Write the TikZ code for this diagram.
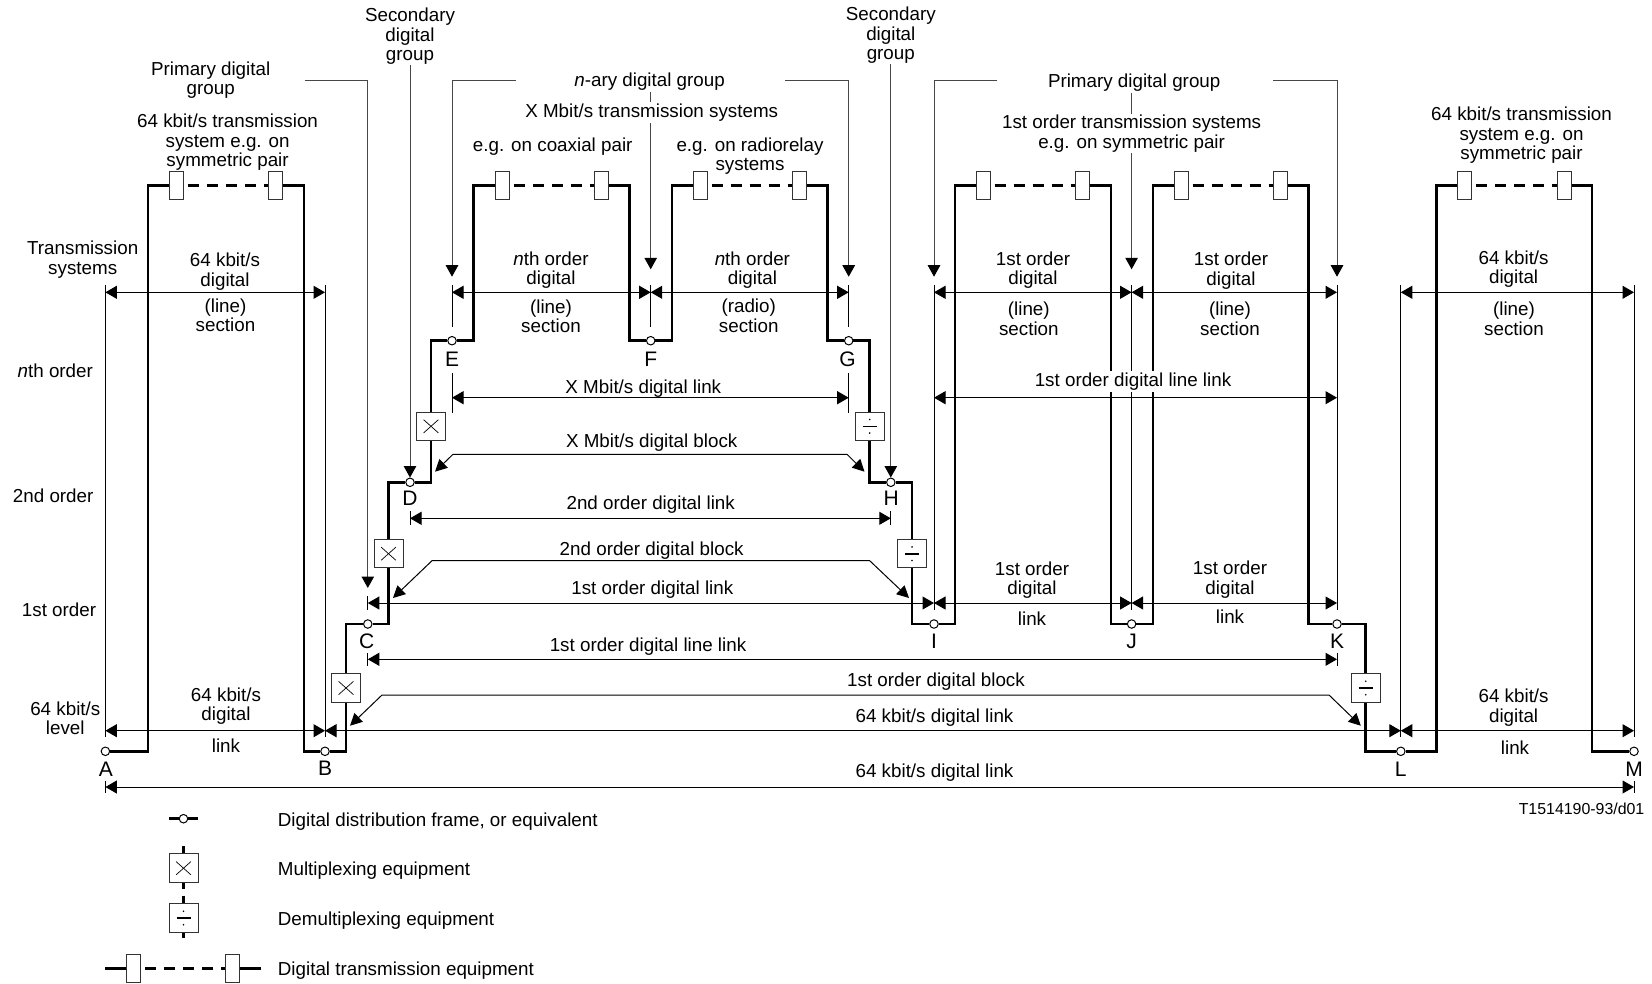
\documentclass[tikz,border=0pt]{standalone}
\usepackage{fontspec}
\setmainfont{Liberation Sans}
\usetikzlibrary{arrows.meta}
\tikzset{
  x=1pt,y=-1pt,
  thinline/.style={line width=1pt,draw=black},
  dimline/.style={thinline,{Triangle[length=11.5pt,width=13pt]}-{Triangle[length=11.5pt,width=13pt]}},
  grouparrow/.style={line width=1pt,draw=black!72,-{Triangle[length=11.5pt,width=12.5pt,black]}},
  blockarrow/.style={thinline,{Triangle[length=12pt,width=12pt]}-{Triangle[length=12pt,width=12pt]}},
  route/.style={line width=2.5pt,line join=miter,draw=black},
  routedash/.style={line width=2.5pt,draw=black,dash pattern=on 11pt off 8pt,dash phase=-4pt},
  ddf/.style={circle,draw=black,fill=white,line width=1pt,minimum size=8.5pt,inner sep=0pt},
  tbox/.style={rectangle,draw=black!80,fill=white,line width=1pt,minimum width=14pt,minimum height=28pt,inner sep=0pt},
  muxbox/.style={rectangle,draw=black!80,fill=white,line width=1pt,minimum width=29pt,minimum height=28.5pt,inner sep=0pt,
    path picture={\draw[line width=.7pt,black] ([shift={(-7.4,-6.6)}]path picture bounding box.center) -- ([shift={(7.4,6.6)}]path picture bounding box.center);
      \draw[line width=.7pt,black] ([shift={(-7.4,6.6)}]path picture bounding box.center) -- ([shift={(7.4,-6.6)}]path picture bounding box.center);}},
  demuxbox/.style={rectangle,draw=black!80,fill=white,line width=1pt,minimum width=29pt,minimum height=28.5pt,inner sep=0pt,
    path picture={\draw[line width=1.6pt,black] ([shift={(-7,0)}]path picture bounding box.center) -- ([shift={(7,0)}]path picture bounding box.center);
      \fill[black] ([shift={(0,-6.8)}]path picture bounding box.center) circle (.9);
      \fill[black] ([shift={(0,6.8)}]path picture bounding box.center) circle (.9);}},
  lab/.style={align=center,font=\fontsize{18.8}{19.4}\selectfont,inner sep=0pt,yshift=-1pt},
  wlab/.style={lab,fill=white,inner xsep=1pt,inner ysep=1.5pt},
  leftlab/.style={lab,anchor=west,align=left},
  letterlab/.style={font=\fontsize{21}{23}\selectfont,inner sep=0pt},
}
\begin{document}
\begin{tikzpicture}
\useasboundingbox (0,0) rectangle (1652,983);
\fill[white] (0,0) rectangle (1652,983);

% distribution frames
\node[ddf] (A) at (105.4,751.3) {};
\node[ddf] (B) at (325,751.3) {};
\node[ddf] (C) at (367.8,624) {};
\node[ddf] (D) at (410,482.3) {};
\node[ddf] (E) at (452,340.7) {};
\node[ddf] (F) at (650.7,340.7) {};
\node[ddf] (G) at (848.7,340.7) {};
\node[ddf] (H) at (890.8,482.3) {};
\node[ddf] (I) at (934,624) {};
\node[ddf] (J) at (1131.6,624) {};
\node[ddf] (K) at (1337,624) {};
\node[ddf] (L) at (1400.8,751.3) {};
\node[ddf] (M) at (1634,751.3) {};

% multiplexers
\node[muxbox] (m1) at (346,688) {};
\node[muxbox] (m2) at (388.5,553.7) {};
\node[muxbox] (m3) at (431,426.3) {};
\node[demuxbox] (d1) at (869.7,426.3) {};
\node[demuxbox] (d2) at (912,553.7) {};
\node[demuxbox] (d3) at (1365.7,688) {};

% transmission equipment
\foreach \n/\xx in {t1/176.4,t2/275.5,t3/502.4,t4/601.4,t5/700,t6/799.2,t7/983,t8/1082,t9/1181,t10/1280,t11/1464.5,t12/1564}
  \node[tbox] (\n) at (\xx,185.5) {};

% route corners
\foreach \n/\xx in {c1/148,c2/304,c3/473.6,c4/629.6,c5/672,c6/827.7,c7/955,c8/1111,c9/1153,c10/1308.6,c11/1436.6,c12/1592}
  \coordinate (\n) at (\xx,185.5);

\draw[route] (A) -| (c1) -- (t1.west);
\draw[routedash] (t1.east) -- (t2.west);
\draw[route] (t2.east) -- (c2) |- (B);
\draw[route] (B) -| (m1.south);
\draw[route] (m1.north) |- (C);
\draw[route] (C) -| (m2.south);
\draw[route] (m2.north) |- (D);
\draw[route] (D) -| (m3.south);
\draw[route] (m3.north) |- (E);
\draw[route] (E) -| (c3) -- (t3.west);
\draw[routedash] (t3.east) -- (t4.west);
\draw[route] (t4.east) -- (c4) |- (F);
\draw[route] (F) -| (c5) -- (t5.west);
\draw[routedash] (t5.east) -- (t6.west);
\draw[route] (t6.east) -- (c6) |- (G);
\draw[route] (G) -| (d1.north);
\draw[route] (d1.south) |- (H);
\draw[route] (H) -| (d2.north);
\draw[route] (d2.south) |- (I);
\draw[route] (I) -| (c7) -- (t7.west);
\draw[routedash] (t7.east) -- (t8.west);
\draw[route] (t8.east) -- (c8) |- (J);
\draw[route] (J) -| (c9) -- (t9.west);
\draw[routedash] (t9.east) -- (t10.west);
\draw[route] (t10.east) -- (c10) |- (K);
\draw[route] (K) -| (d3.north);
\draw[route] (d3.south) |- (L);
\draw[route] (L) -| (c11) -- (t11.west);
\draw[routedash] (t11.east) -- (t12.west);
\draw[route] (t12.east) -- (c12) |- (M);

% rows
\coordinate (yTick) at (0,285);
\coordinate (yS) at (0,292.3);
\coordinate (yX) at (0,397.7);
\coordinate (y2) at (0,518.3);
\coordinate (y1) at (0,603);
\coordinate (yL) at (0,659.3);
\coordinate (y64) at (0,730.7);
\coordinate (yB) at (0,787);
\coordinate (yGrp) at (0,80);
\coordinate (yLow) at (0,737);
\coordinate (yShort) at (0,326.7);
\coordinate (yMid) at (0,610);
\coordinate (yHead) at (0,276.7);

% extension lines
\foreach \n in {A,B,L,M} \draw[thinline] (\n |- yTick) -- (\n |- yLow);
\foreach \n in {E,F,G} \draw[thinline] (\n |- yTick) -- (\n |- yShort);
\foreach \n in {I,J,K} \draw[thinline] (\n |- yTick) -- (\n |- yMid);
\foreach \n in {E,G} \draw[thinline] ([yshift=24.7pt]\n |- yX) -- ([yshift=-15.3pt]\n |- yX);
\foreach \n in {D,H} \draw[thinline] ([yshift=7pt]\n |- y2) -- ([yshift=-7pt]\n |- y2);
\draw[thinline] ([yshift=7pt]C |- y1) -- ([yshift=-7pt]C |- y1);
\foreach \n in {C,K} \draw[thinline] ([yshift=6pt]\n |- yL) -- ([yshift=-6.5pt]\n |- yL);
\foreach \n in {A,M} \draw[thinline] ([yshift=6pt]\n |- yB) -- ([yshift=-6pt]\n |- yB);

% dimension arrows
\draw[dimline] (A |- yS) -- (B |- yS);
\draw[dimline] (E |- yS) -- (F |- yS);
\draw[dimline] (F |- yS) -- (G |- yS);
\draw[dimline] (I |- yS) -- (J |- yS);
\draw[dimline] (J |- yS) -- (K |- yS);
\draw[dimline] (L |- yS) -- (M |- yS);
\draw[dimline] (E |- yX) -- (G |- yX);
\draw[dimline] (I |- yX) -- (K |- yX);
\draw[dimline] (D |- y2) -- (H |- y2);
\draw[dimline] (C |- y1) -- (I |- y1);
\draw[dimline] (I |- y1) -- (J |- y1);
\draw[dimline] (J |- y1) -- (K |- y1);
\draw[dimline] (C |- yL) -- (K |- yL);
\draw[dimline] (A |- y64) -- (B |- y64);
\draw[dimline] (B |- y64) -- (L |- y64);
\draw[dimline] (L |- y64) -- (M |- y64);
\draw[dimline] (A |- yB) -- (M |- yB);

% block arrows
\coordinate (bx1) at (435,471.7);
\coordinate (bx2) at (453,454.3);
\coordinate (bx3) at (847,454.3);
\coordinate (bx4) at (864.5,471.7);
\draw[blockarrow] (bx1) -- (bx2) -- (bx3) -- (bx4);
\coordinate (b2a) at (393,598);
\coordinate (b2b) at (432,560.7);
\coordinate (b2c) at (869.7,560.7);
\coordinate (b2d) at (909,598);
\draw[blockarrow] (b2a) -- (b2b) -- (b2c) -- (b2d);
\coordinate (b1a) at (350,725.7);
\coordinate (b1b) at (382,695);
\coordinate (b1c) at (1329,695);
\coordinate (b1d) at (1360.8,725.7);
\draw[blockarrow] (b1a) -- (b1b) -- (b1c) -- (b1d);

% group arrows
\coordinate (g1) at (304.5,80);
\coordinate (g2) at (516.3,80);
\coordinate (g3) at (785,80);
\coordinate (g4) at (997,80);
\coordinate (g5) at (1273,80);
\draw[grouparrow] (g1) -- (C |- yGrp) -- ([yshift=15pt]C |- y1);
\draw[grouparrow] (g2) -- (E |- yGrp) -- (E |- yHead);
\draw[grouparrow] (g3) -- (G |- yGrp) -- (G |- yHead);
\draw[grouparrow] (g4) -- (I |- yGrp) -- (I |- yHead);
\draw[grouparrow] (g5) -- (K |- yGrp) -- (K |- yHead);
\coordinate (sL) at (410,65);
\coordinate (sR) at (890.8,64);
\draw[grouparrow] (sL) -- ([yshift=14.6pt]D);
\draw[grouparrow] (sR) -- ([yshift=14.6pt]H);
\coordinate (fT) at (650.7,92);
\coordinate (jT) at (1131.6,90);
\draw[grouparrow] (fT) -- ([yshift=7.4pt]F |- yHead);
\draw[grouparrow] (jT) -- ([yshift=7.4pt]J |- yHead);

% white-backed labels
\node[wlab] (nary) at (649.6,81) {\textit{n}-ary digital group};
\node[wlab] (xsys) at (651.7,111.7) {X Mbit/s transmission systems};
\node[wlab] (prim2) at (1134.2,82) {Primary digital group};
\node[wlab] (fsys) at (1131.6,132.5) {1st order transmission systems\\e.g. on symmetric pair};
\node[wlab] (fll) at (1133,380.3) {1st order digital line link};

% labels
\node[lab] (sec1) at (410,35.5) {Secondary\\digital\\group};
\node[lab] (sec2) at (890.8,34.5) {Secondary\\digital\\group};
\node[lab] (prim1) at (210.7,79) {Primary digital\\group};
\node[lab] (s64a) at (227.6,141.5) {64 kbit/s transmission\\system e.g. on\\symmetric pair};
\node[lab] (s64b) at (1521.5,134.3) {64 kbit/s transmission\\system e.g. on\\symmetric pair};
\node[lab] (coax) at (552.7,145.7) {e.g. on coaxial pair};
\node[lab] (radio) at (750,155.3) {e.g. on radiorelay\\systems};
\node[lab] (ltr) at (82.7,258.5) {Transmission\\systems};
\node[lab] (lnth) at (55.3,370) {\textit{n}th order};
\node[lab] (l2nd) at (53.2,494.3) {2nd order};
\node[lab] (l1st) at (59,608.7) {1st order};
\node[lab] (l64) at (65.3,717.3) {64 kbit/s\\level};

\node[lab] (a1) at (225,270.7) {64 kbit/s\\digital};
\node[lab] (a2) at (225.5,314.5) {(line)\\section};
\node[lab] (a3) at (551,269) {\textit{n}th order\\digital};
\node[lab] (a4) at (551,315) {(line)\\section};
\node[lab] (a5) at (752.4,269) {\textit{n}th order\\digital};
\node[lab] (a6) at (748.7,314.7) {(radio)\\section};
\node[lab] (a7) at (1033,269) {1st order\\digital};
\node[lab] (a8) at (1028.8,317.7) {(line)\\section};
\node[lab] (a9) at (1231,269.5) {1st order\\digital};
\node[lab] (a10) at (1230,317.7) {(line)\\section};
\node[lab] (a11) at (1513.6,268) {64 kbit/s\\digital};
\node[lab] (a12) at (1514,317.7) {(line)\\section};

\node[lab] (x1) at (643.3,387.2) {X Mbit/s digital link};
\node[lab] (x2) at (651.7,442) {X Mbit/s digital block};
\node[lab] (x3) at (650.7,503.3) {2nd order digital link};
\node[lab] (x4) at (651.7,549.3) {2nd order digital block};
\node[lab] (x5) at (652.3,588.7) {1st order digital link};
\node[lab] (x6) at (648,645.7) {1st order digital line link};
\node[lab] (x7) at (936,680.7) {1st order digital block};
\node[lab] (x8) at (934.5,716.7) {64 kbit/s digital link};
\node[lab] (x9) at (934.5,771.7) {64 kbit/s digital link};

\node[lab] (b1) at (1032,579) {1st order\\digital};
\node[lab] (b2) at (1032,617.7) {link};
\node[lab] (b3) at (1230,578.5) {1st order\\digital};
\node[lab] (b4) at (1230,615.3) {link};
\node[lab] (b5) at (226,705) {64 kbit/s\\digital};
\node[lab] (b6) at (226,744.3) {link};
\node[lab] (b7) at (1513.6,706.7) {64 kbit/s\\digital};
\node[lab] (b8) at (1515,746.3) {link};

% letters
\node[letterlab] (lA) at (105.9,769) {A};
\node[letterlab] (lB) at (325,768.3) {B};
\node[letterlab] (lC) at (366.7,641.3) {C};
\node[letterlab] (lD) at (410,498.7) {D};
\node[letterlab] (lE) at (452,359) {E};
\node[letterlab] (lF) at (650.7,359) {F};
\node[letterlab] (lG) at (847.6,359) {G};
\node[letterlab] (lH) at (891.3,498.7) {H};
\node[letterlab] (lI) at (934,641.3) {I};
\node[letterlab] (lJ) at (1131.6,641.3) {J};
\node[letterlab] (lK) at (1337,641.3) {K};
\node[letterlab] (lL) at (1400.8,769.5) {L};
\node[letterlab] (lM) at (1634,769.5) {M};

\node[font=\fontsize{15.9}{17}\selectfont,inner sep=0pt,anchor=east] (code) at (1644.5,808.7) {T1514190-93/d01};

% legend
\node[ddf] (lg1) at (183.5,818.7) {};
\coordinate (lg1a) at (169,818.7);
\coordinate (lg1b) at (198,818.7);
\draw[route] (lg1a) -- (lg1);
\draw[route] (lg1) -- (lg1b);
\node[muxbox] (lg2) at (183.5,868.2) {};
\coordinate (lg2a) at (183.5,846.3);
\coordinate (lg2b) at (183.5,889);
\draw[route] (lg2a) -- (lg2.north);
\draw[route] (lg2.south) -- (lg2b);
\node[demuxbox] (lg3) at (183.5,918) {};
\coordinate (lg3a) at (183.5,895.7);
\coordinate (lg3b) at (183.5,938.3);
\draw[route] (lg3a) -- (lg3.north);
\draw[route] (lg3.south) -- (lg3b);
\node[tbox] (lg4) at (133.5,968.3) {};
\node[tbox] (lg5) at (232.6,968.3) {};
\coordinate (lg4a) at (105.4,968.3);
\coordinate (lg4b) at (260.8,968.3);
\draw[route] (lg4a) -- (lg4.west);
\draw[routedash] (lg4.east) -- (lg5.west);
\draw[route] (lg5.east) -- (lg4b);

\node[leftlab] (tx1) at (277.7,820.7) {Digital distribution frame, or equivalent};
\node[leftlab] (tx2) at (277.7,869.7) {Multiplexing equipment};
\node[leftlab] (tx3) at (277.7,919.7) {Demultiplexing equipment};
\node[leftlab] (tx4) at (277.7,969.7) {Digital transmission equipment};
\end{tikzpicture}
\end{document}
